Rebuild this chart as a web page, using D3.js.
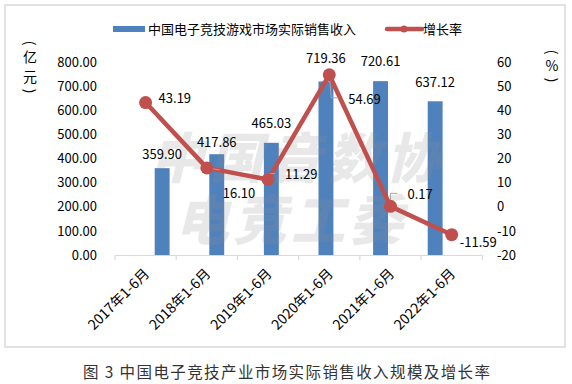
<!DOCTYPE html>
<html>
<head>
    <meta charset="UTF-8">
    <script src="https://d3js.org/d3.v7.min.js"></script>
    <style>
        body { margin: 0; background: #fff; }
        text { font-family: "Noto Sans CJK SC", "Noto Sans", sans-serif; }
    </style>
</head>
<body>
    <svg width="572" height="384"></svg>
    <script>
        // data
        const categories = ["2017年1-6月", "2018年1-6月", "2019年1-6月", "2020年1-6月", "2021年1-6月", "2022年1-6月"];
        const revenue = [359.90, 417.86, 465.03, 719.36, 720.61, 637.12];
        const growth = [43.19, 16.10, 11.29, 54.69, 0.17, -11.59];
        const leftTicks = [0, 100, 200, 300, 400, 500, 600, 700, 800];
        const rightTicks = [-20, -10, 0, 10, 20, 30, 40, 50, 60];

        // how far above each bar its value label sits
        const barLabelOffset = [14, 12, 19, 23, 20, 19];
        // label offsets for the growth labels (dx, dy from the point)
        const growthLabelOffset = [[13, -4], [16, 25], [17, -5], [19, 25], [17, -12], [8, 8]];
        // little grey leader lines, relative to the point
        const leaders = [null, [[0, 0], [13, 2]], [[0, 0], [0, -6], [7, -6]], [[0, 0], [2, 23], [8, 23]], [[0, 0], [0, -13], [7, -13]], null];

        const svg = d3.select("svg");
        const blue = "#4F81BD", red = "#C0504D";

        // frame
        svg.append("rect")
            .attr("x", 5).attr("y", 5)
            .attr("width", 560).attr("height", 342)
            .attr("fill", "#fff")
            .attr("stroke", "#d9d9d9")
            .attr("stroke-width", 1.5);

        const x = d3.scaleBand().domain(categories).range([115, 482.3]).padding(0.727);
        const xOuter = d3.scaleBand().domain(categories).range([115, 482.3]);
        const yL = d3.scaleLinear().domain([0, 800]).range([255, 62]);
        const yR = d3.scaleLinear().domain([-20, 60]).range([255, 62]);

        // left axis labels
        svg.append("g").selectAll("text")
            .data(leftTicks).enter().append("text")
            .attr("x", 97).attr("y", d => yL(d))
            .attr("dy", "0.36em")
            .attr("text-anchor", "end")
            .attr("font-size", "13px")
            .attr("fill", "#000")
            .text(d => d.toFixed(2));

        // right axis labels
        svg.append("g").selectAll("text")
            .data(rightTicks).enter().append("text")
            .attr("x", 497).attr("y", d => yR(d))
            .attr("dy", "0.36em")
            .attr("font-size", "13px")
            .attr("fill", "#000")
            .text(d => d);

        // axis titles, stacked vertically; the brackets are rotated
        function vTitle(chars, ys, cx) {
            const g = svg.append("g");
            chars.forEach((c, i) => {
                const t = g.append("text")
                    .attr("text-anchor", "middle")
                    .attr("dy", "0.36em")
                    .attr("font-size", "14px")
                    .text(c);
                if (c === "(" || c === ")") {
                    t.attr("transform", `translate(${cx},${ys[i]}) rotate(90)`);
                } else {
                    t.attr("x", cx).attr("y", ys[i]);
                }
            });
        }
        vTitle(["(", "亿", "元", ")"], [43, 57, 77, 91], 30);
        vTitle(["(", "%", ")"], [52, 66, 80], 552);

        // x axis
        const xAxis = svg.append("g").attr("transform", "translate(0,255)")
            .call(d3.axisBottom(xOuter).tickSize(0).tickFormat(""));
        xAxis.select(".domain").attr("stroke", "#d9d9d9").attr("stroke-width", 1.2);
        xAxis.selectAll(".tick").remove();
        const bounds = categories.map(c => xOuter(c)).concat([xOuter(categories[5]) + xOuter.bandwidth()]);
        xAxis.selectAll("line.bd")
            .data(bounds).enter().append("line")
            .attr("x1", d => d).attr("x2", d => d)
            .attr("y1", 0).attr("y2", 5)
            .attr("stroke", "#d9d9d9").attr("stroke-width", 1.2);

        svg.append("g").selectAll("text")
            .data(categories).enter().append("text")
            .attr("transform", d => `translate(${xOuter(d) + xOuter.bandwidth() / 2 + 1},271) rotate(-45)`)
            .attr("text-anchor", "end")
            .attr("dy", "0.36em")
            .attr("font-size", "14px")
            .attr("fill", "#000")
            .text(d => d);

        // bars
        svg.append("g").selectAll("rect")
            .data(revenue).enter().append("rect")
            .attr("x", (d, i) => x(categories[i]))
            .attr("y", d => yL(d))
            .attr("width", x.bandwidth())
            .attr("height", d => yL(0) - yL(d))
            .attr("fill", blue);

        // watermark
        const wm = svg.append("g").attr("fill", "#8c8c8c").attr("fill-opacity", 0.2)
            .attr("font-weight", 900).attr("font-size", "54px");
        wm.append("text").attr("transform", "translate(150,178) skewX(-14)")
            .attr("textLength", 290).text("中国音数协");
        wm.append("text").attr("transform", "translate(175,240) skewX(-14)")
            .attr("textLength", 228).text("电竞工委");

        // bar labels
        svg.append("g").selectAll("text")
            .data(revenue).enter().append("text")
            .attr("x", (d, i) => x(categories[i]) + x.bandwidth() / 2)
            .attr("y", (d, i) => yL(d) - barLabelOffset[i])
            .attr("dy", "0.36em")
            .attr("text-anchor", "middle")
            .attr("font-size", "13px")
            .attr("fill", "#000")
            .text(d => d.toFixed(2));

        // growth line
        const cx = (d, i) => xOuter(categories[i]) + xOuter.bandwidth() / 2;
        const line = d3.line().x((d, i) => cx(d, i)).y(d => yR(d));
        svg.append("path").datum(growth)
            .attr("d", line)
            .attr("fill", "none")
            .attr("stroke", red)
            .attr("stroke-width", 4.5)
            .attr("stroke-linejoin", "round");

        // leader lines
        const leaderGroup = svg.append("g");
        growth.forEach((d, i) => {
            if (!leaders[i]) return;
            const px = cx(d, i), py = yR(d);
            leaderGroup.append("path")
                .attr("d", d3.line()(leaders[i].map(p => [px + p[0], py + p[1]])))
                .attr("fill", "none")
                .attr("stroke", "#a6a6a6")
                .attr("stroke-width", 1);
        });

        svg.append("g").selectAll("circle")
            .data(growth).enter().append("circle")
            .attr("cx", cx)
            .attr("cy", d => yR(d))
            .attr("r", 6.5)
            .attr("fill", red);

        svg.append("g").selectAll("text")
            .data(growth).enter().append("text")
            .attr("x", (d, i) => cx(d, i) + growthLabelOffset[i][0])
            .attr("y", (d, i) => yR(d) + growthLabelOffset[i][1])
            .attr("dy", "0.36em")
            .attr("font-size", "13px")
            .attr("fill", "#000")
            .text(d => d.toFixed(2));

        // legend
        const lg = svg.append("g");
        lg.append("rect").attr("x", 113).attr("y", 26).attr("width", 32).attr("height", 6).attr("fill", blue);
        lg.append("text").attr("x", 148).attr("y", 29).attr("dy", "0.36em")
            .attr("font-size", "13px").text("中国电子竞技游戏市场实际销售收入");
        lg.append("line").attr("x1", 387).attr("x2", 422).attr("y1", 29).attr("y2", 29)
            .attr("stroke", red).attr("stroke-width", 4.5).attr("stroke-linecap", "round");
        lg.append("circle").attr("cx", 404).attr("cy", 29).attr("r", 3.5).attr("fill", red);
        lg.append("text").attr("x", 423).attr("y", 29).attr("dy", "0.36em")
            .attr("font-size", "13px").text("增长率");

        // caption
        svg.append("text")
            .attr("x", 83).attr("y", 372).attr("dy", "0.36em")
            .attr("font-size", "15.5px")
            .attr("fill", "#333")
            .attr("textLength", 407)
            .text("图 3 中国电子竞技产业市场实际销售收入规模及增长率");
    </script>
</body>
</html>
